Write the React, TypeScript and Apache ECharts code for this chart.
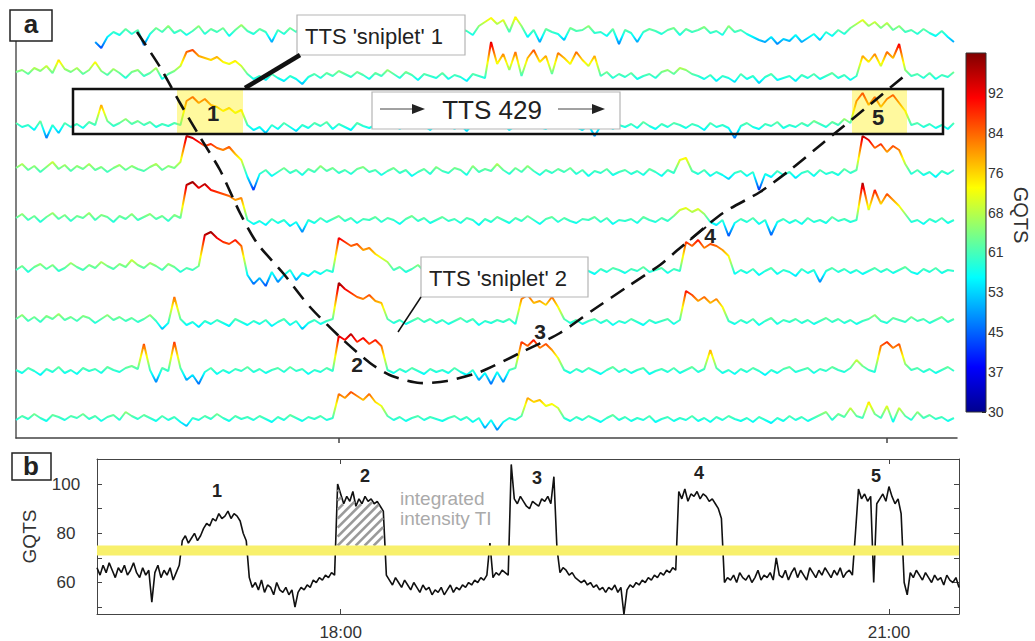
import React, { useEffect, useRef } from "react";
import * as echarts from "echarts";

const FONT = "'Liberation Sans', Arial, Helvetica, sans-serif";

// ---- Panel a: nine rows of GQTS traces (time in minutes after 16:00) ----
const ROW_T0 = 14;
const ROW_STEP = 2;
const N = null;
const ROW_0 = [N, N, N, N, N, N, N, N, N, N, N, N, N,
  50, 44, 55, 60, 57, 63, 58, 62, 47, 58,
  64, 60, 66, 59, 62, 57, 61, 66, 58, 63,
  60, 64, 56, 62, 67, 61, 58, 63, 60, 50,
  62, 58, 64, 60, 67, 63, 59, 55, 62, 66,
  61, 64, 58, 62, 60, 56, 63, 65, 59, 61,
  58, 62, 57, 64, 60, 55, 62, 66, 60, 58,
  63, 61, 57, 66, 70, 74, 68, 72, 60, 75,
  66, 55, 62, 50, 63, 60, 58, 52, 64, 61,
  62, 66, 59, 60, 56, 63, 48, 62, 59, 50,
  60, 63, 61, 58, 62, 64, 57, 63, 60, 62,
  65, 59, 61, 57, 66, 60, 62, 58, 55, 52,
  50, 55, 48, 53, 51, 57, 50, 54, 58, 52,
  60, 56, 62, 58, 64, 68, 72, 66, 70, 64,
  69, 62, 66, 60, 62, 58, 63, 59, 56, 61,
  55, 50];
const ROW_1 = [64, 66, 62, 68, 65, 70, 63, 76, 67, 64,
  68, 62, 66, 74, 65, 61, 67, 63, 58, 64,
  66, 60, 63, 68, 57, 62, 65, 70, 84, 86,
  80, 78, 76, 79, 74, 72, 75, 70, 62, 57,
  60, 56, 62, 58, 55, 60, 57, 52, 59, 62,
  58, 63, 60, 65, 62, 59, 64, 61, 57, 63,
  60, 66, 62, 58, 64, 61, 56, 62, 60, 58,
  63, 57, 61, 59, 55, 62, 60, 58, 94, 72,
  82, 66, 84, 60, 78, 86, 74, 80, 62, 83,
  78, 72, 84, 76, 70, 80, 60, 64, 58, 62,
  59, 63, 57, 60, 62, 58, 64, 66, 62, 68,
  66, 62, 60, 57, 61, 55, 60, 58, 54, 62,
  57, 60, 53, 59, 62, 56, 58, 60, 55, 61,
  58, 62, 57, 60, 63, 58, 61, 56, 60, 80,
  74, 82, 70, 84, 78, 92, 66, 60, 62, 58,
  63, 57, 61, 59, 64];
const ROW_2 = [62, 58, 60, 55, 64, 47, 60, 52, 62, 58,
  61, 57, 63, 60, 80, 64, 59, 62, 66, 61,
  64, 60, 63, 58, 61, 59, 62, 60, 84, 88,
  82, 86, 80, 78, 74, 77, 72, 75, 60, 55,
  58, 52, 60, 56, 62, 58, 54, 60, 57, 62,
  59, 63, 56, 61, 58, 55, 62, 59, 57, 60,
  62, 58, 61, 56, 60, 57, 63, 59, 55, 61,
  58, 62, 56, 60, 54, 61, 58, 63, 57, 60,
  61, 55, 59, 62, 57, 60, 58, 56, 61, 59,
  57, 62, 58, 55, 60, 49, 59, 62, 56, 60,
  58, 61, 57, 63, 59, 56, 61, 58, 62, 60,
  57, 61, 59, 55, 62, 58, 60, 57, 47, 59,
  62, 58, 56, 61, 59, 63, 57, 60, 58, 62,
  59, 64, 61, 58, 63, 60, 66, 62, 84, 92,
  80, 88, 78, 86, 90, 82, 74, 60, 62, 58,
  61, 57, 60, 56, 62];
const ROW_3 = [64, 68, 62, 66, 60, 65, 70, 63, 67, 61,
  66, 63, 68, 62, 65, 60, 64, 67, 62, 66,
  63, 61, 65, 68, 62, 66, 64, 70, 96, 94,
  90, 86, 88, 84, 82, 85, 78, 72, 55, 42,
  58, 62, 56, 60, 64, 59, 62, 57, 63, 60,
  66, 61, 64, 59, 62, 58, 63, 65, 60, 62,
  57, 61, 64, 59, 62, 56, 60, 63, 58, 65,
  61, 59, 64, 62, 57, 66, 60, 63, 61, 68,
  62, 58, 64, 60, 66, 61, 57, 62, 59, 63,
  60, 64, 58, 62, 56, 61, 59, 63, 57, 60,
  62, 58, 61, 57, 63, 60, 56, 62, 59, 72,
  74, 61, 58, 62, 56, 60, 57, 53, 59, 61,
  56, 60, 42, 58, 55, 61, 57, 60, 54, 59,
  61, 56, 62, 58, 60, 57, 63, 59, 62, 96,
  92, 84, 88, 80, 86, 82, 68, 58, 62, 57,
  60, 55, 61, 58, 62];
const ROW_4 = [62, 66, 60, 64, 58, 63, 67, 61, 65, 59,
  64, 62, 67, 60, 65, 63, 58, 64, 61, 66,
  60, 63, 66, 61, 64, 59, 65, 62, 95, 98,
  92, 96, 90, 88, 86, 84, 80, 82, 60, 56,
  59, 55, 61, 57, 60, 54, 58, 48, 60, 57,
  62, 58, 61, 64, 59, 62, 57, 61, 60, 63,
  58, 62, 60, 56, 61, 64, 59, 62, 57, 60,
  63, 59, 61, 57, 62, 60, 55, 61, 58, 63,
  60, 57, 62, 59, 64, 60, 56, 61, 63, 58,
  62, 59, 57, 61, 60, 63, 58, 62, 56, 60,
  59, 61, 57, 63, 60, 58, 62, 59, 64, 70,
  72, 68, 71, 66, 58, 55, 60, 44, 57, 61,
  58, 62, 56, 60, 45, 58, 61, 57, 60, 56,
  62, 58, 60, 57, 63, 59, 61, 58, 60, 97,
  70, 90, 76, 86, 80, 74, 66, 58, 60, 56,
  61, 58, 62, 57, 60];
const ROW_5 = [60, 64, 58, 63, 66, 61, 65, 59, 62, 67,
  63, 60, 65, 62, 68, 64, 61, 66, 63, 70,
  65, 62, 67, 64, 60, 66, 63, 58, 62, 60,
  64, 95, 98, 92, 88, 86, 90, 84, 55, 46,
  52, 44, 58, 48, 55, 60, 50, 57, 54, 59,
  56, 60, 58, 92, 88, 84, 86, 80, 82, 76,
  72, 68, 60, 63, 58, 61, 65, 59, 62, 57,
  63, 60, 58, 62, 56, 61, 59, 64, 60, 57,
  62, 58, 61, 59, 56, 60, 63, 58, 61, 57,
  60, 62, 58, 63, 59, 56, 61, 58, 62, 60,
  57, 61, 59, 63, 58, 60, 62, 57, 61, 59,
  88, 84, 90, 82, 86, 84, 80, 74, 56, 60,
  57, 61, 55, 59, 62, 56, 60, 58, 54, 61,
  57, 60, 48, 59, 62, 58, 61, 57, 60, 56,
  59, 62, 58, 61, 57, 60, 63, 58, 56, 61,
  58, 62, 57, 60, 59];
const ROW_6 = [62, 66, 60, 64, 59, 65, 62, 67, 61, 64,
  60, 65, 63, 58, 62, 66, 61, 64, 60, 63,
  59, 62, 66, 60, 52, 58, 84, 62, 56, 59,
  54, 60, 57, 61, 58, 55, 62, 59, 56, 60,
  57, 61, 55, 59, 62, 56, 60, 52, 58, 61,
  57, 60, 62, 98, 92, 88, 84, 82, 86, 80,
  78, 62, 58, 61, 57, 60, 63, 59, 62, 58,
  61, 57, 60, 63, 59, 62, 56, 60, 58, 61,
  59, 62, 57, 82, 86, 78, 80, 76, 84, 74,
  62, 58, 61, 57, 60, 62, 58, 61, 56, 60,
  58, 62, 59, 56, 61, 58, 60, 62, 57, 61,
  90, 86, 80, 84, 78, 82, 74, 60, 57, 61,
  58, 62, 56, 60, 63, 57, 61, 59, 62, 58,
  61, 57, 60, 63, 59, 62, 58, 61, 57, 60,
  62, 66, 60, 58, 63, 61, 59, 64, 60, 62,
  58, 61, 64, 59, 62];
const ROW_7 = [60, 57, 62, 59, 55, 61, 58, 63, 57, 60,
  56, 62, 59, 61, 57, 63, 60, 58, 62, 64,
  61, 86, 60, 48, 62, 59, 88, 62, 50, 55,
  46, 58, 62, 56, 60, 57, 61, 59, 63, 58,
  61, 57, 60, 62, 58, 63, 59, 61, 56, 60,
  58, 62, 59, 94, 90, 96, 88, 92, 86, 90,
  84, 60, 57, 61, 58, 62, 59, 56, 61, 58,
  60, 57, 62, 58, 55, 60, 50, 57, 46, 58,
  48, 60, 62, 88, 84, 90, 82, 86, 80, 72,
  60, 57, 61, 58, 62, 59, 56, 60, 63, 58,
  61, 57, 60, 62, 56, 59, 61, 58, 62, 57,
  60, 63, 58, 61, 80, 62, 57, 60, 56, 61,
  58, 62, 59, 55, 60, 57, 61, 63, 58, 60,
  62, 57, 61, 59, 63, 60, 58, 62, 70, 64,
  60, 58, 84, 88, 82, 86, 66, 60, 62, 58,
  61, 57, 60, 63, 59];
const ROW_8 = [58, 62, 59, 64, 60, 57, 63, 61, 58, 62,
  60, 64, 59, 62, 57, 61, 63, 58, 66, 62,
  59, 63, 60, 57, 62, 58, 61, 56, 52, 60,
  58, 62, 59, 64, 60, 57, 62, 59, 61, 58,
  62, 59, 56, 61, 58, 63, 60, 57, 61, 59,
  62, 58, 60, 84, 80, 86, 82, 78, 84, 76,
  72, 62, 58, 61, 57, 60, 62, 58, 61, 59,
  57, 60, 62, 58, 61, 56, 60, 50, 58, 48,
  56, 60, 58, 62, 80, 76, 78, 72, 74, 70,
  60, 57, 61, 58, 62, 59, 56, 60, 63, 58,
  61, 57, 60, 58, 62, 56, 59, 61, 57, 60,
  58, 62, 57, 60, 56, 61, 58, 62, 59, 57,
  60, 56, 61, 58, 55, 60, 57, 62, 58, 61,
  57, 60, 63, 66, 58, 64, 61, 70, 62, 60,
  76, 64, 60, 72, 56, 70, 62, 58, 66, 60,
  63, 59, 61, 57, 60];
const ROWS = [ROW_0, ROW_1, ROW_2, ROW_3, ROW_4, ROW_5, ROW_6, ROW_7, ROW_8];

// ---- Panel b: GQTS profile along the TTS (one value per minute) ----
const PROFILE_T0 = 40;
const PROFILE_STEP = 1;
const PROFILE = [66, 63, 67, 64, 68, 65, 62, 66, 64, 67,
  63, 65, 68, 64, 62, 66, 63, 65, 52, 64,
  67, 62, 65, 63, 66, 61, 64, 67, 77, 79,
  76, 78, 80, 77, 79, 82, 84, 83, 86, 85,
  88, 86, 87, 89, 86, 88, 87, 85, 80, 77,
  62, 58, 60, 57, 61, 56, 59, 58, 55, 60,
  57, 56, 58, 55, 57, 50, 56, 58, 57, 59,
  58, 61, 60, 62, 61, 63, 62, 64, 63, 100,
  96, 92, 95, 93, 97, 91, 94, 92, 95, 93,
  94, 92, 93, 91, 89, 63, 61, 59, 62, 60,
  58, 61, 59, 57, 60, 58, 56, 59, 57, 58,
  55, 57, 56, 58, 55, 57, 59, 56, 58, 57,
  59, 58, 60, 59, 61, 60, 62, 61, 63, 76,
  62, 64, 63, 65, 64, 63, 108, 94, 92, 95,
  93, 91, 90, 93, 92, 91, 94, 93, 95, 92,
  103, 74, 64, 66, 65, 63, 64, 62, 61, 60,
  61, 59, 60, 58, 59, 57, 58, 56, 58, 57,
  59, 56, 58, 47, 57, 59, 58, 60, 59, 61,
  60, 62, 61, 63, 62, 64, 63, 65, 64, 66,
  65, 97, 94, 98, 93, 96, 95, 97, 94, 96,
  95, 93, 94, 92, 90, 86, 60, 62, 61, 63,
  60, 64, 62, 61, 63, 60, 62, 65, 61, 63,
  62, 64, 61, 70, 63, 62, 65, 61, 64, 66,
  62, 65, 63, 61, 66, 64, 62, 65, 63, 66,
  64, 62, 65, 63, 66, 62, 64, 65, 63, 80,
  98, 94, 96, 93, 95, 60, 92, 94, 96, 93,
  99, 95, 92, 94, 88, 60, 55, 64, 62, 65,
  63, 61, 64, 62, 60, 63, 61, 62, 59, 63,
  61, 60, 62, 58];

const TIME_MIN_A = 14;
const TIME_MIN_B = 40;
const TIME_MAX = 323;
const TIME_TICKS = [120, 300];
const TIME_LABELS = ["18:00", "21:00"];
const GQTS_TICKS_B = [50, 60, 70, 80, 90, 100];
const GQTS_LABELS_B = [60, 80, 100];
const GQTS_RANGE_B = [47.2, 110.2];
const COLORBAR_TICKS = [30, 37.75, 45.5, 53.25, 61, 68.75, 76.5, 84.25, 92];
const COLOR_MIN = 30;
const COLOR_MAX = 99.75;
const JET = ["#00008F", "#0000FF", "#0080FF", "#00FFFF", "#80FF80", "#FFFF00", "#FF8000", "#FF0000", "#800000"];
const THRESHOLD = [71, 75];
const SNIPLET2 = [119, 134];
const PEAK_LABELS_B = ["1", "2", "3", "4", "5"];

// layout: pixel row of GQTS = 60 for each trace row, 1 px per GQTS unit
const ROW_BASE_PX = [32, 76, 125, 172, 220, 270, 321, 370, 418];
const ROW_REF = 60;

const DASH_CURVE = [[137, 32], [160, 67], [180, 103], [200, 137], [220, 170], [240, 213], [257, 243],
  [283, 273], [310, 307], [340, 337], [370, 363], [392, 376], [420, 383], [447, 381], [480, 372],
  [520, 353], [560, 333], [593, 310], [630, 285], [660, 265], [680, 248], [723, 213], [760, 192],
  [790, 170], [823, 143], [867, 107], [903, 77]];

function txt(text: string, x: number, y: number, size: number, o: any = {}) {
  return {
    type: "text", x, y, z: 110, rotation: o.rotation || 0,
    style: {
      text, fill: o.fill || "#222",
      font: `${o.bold ? "bold " : ""}${size}px ${FONT}`,
      align: o.align || "center", verticalAlign: "middle",
      textAlign: o.align || "center", textVerticalAlign: "middle",
    },
  };
}
function rect(x: number, y: number, w: number, h: number, style: any, z = 105) {
  return { type: "rect", z, shape: { x, y, width: w, height: h }, style };
}
function seg(x1: number, y1: number, x2: number, y2: number, w: number, z = 106) {
  return { type: "line", z, shape: { x1, y1, x2, y2 }, style: { stroke: "#111", lineWidth: w } };
}
function arrowHead(x: number, y: number) {
  return { type: "polygon", z: 107, shape: { points: [[x - 13, y - 5], [x, y], [x - 13, y + 5]] }, style: { fill: "#222" } };
}

export default function App() {
  const ref = useRef<HTMLDivElement>(null);
  useEffect(() => {
    if (!ref.current) return;
    const chart = echarts.init(ref.current, null, { renderer: "svg" });

    const grids: any[] = [];
    const xAxes: any[] = [];
    const yAxes: any[] = [];
    const series: any[] = [];

    // grid 0: panel a frame
    grids.push({ left: 16, top: 41, width: 941, height: 397 });
    xAxes.push({
      gridIndex: 0, type: "value", min: TIME_MIN_A, max: TIME_MAX,
      axisLine: { onZero: false, lineStyle: { color: "#444", width: 1.5 } },
      axisTick: { customValues: TIME_TICKS, length: 5, lineStyle: { color: "#444", width: 1.5 } },
      axisLabel: { show: false }, splitLine: { show: false },
    });
    yAxes.push({
      gridIndex: 0, type: "value", min: 0, max: 1,
      axisLine: { show: true, onZero: false, lineStyle: { color: "#555", width: 1.5 } },
      axisTick: { show: false }, axisLabel: { show: false }, splitLine: { show: false },
    });

    // grids 1..9: one per trace row
    ROWS.forEach((row, r) => {
      const base = ROW_BASE_PX[r];
      const top = Math.max(0, base - 40);
      const yMax = ROW_REF + (base - top);
      const gi = r + 1;
      grids.push({ left: 16, top, width: 941, height: base + 30 - top });
      xAxes.push({ gridIndex: gi, type: "value", min: TIME_MIN_A, max: TIME_MAX, show: false });
      yAxes.push({ gridIndex: gi, type: "value", min: 30, max: yMax, show: false });
      series.push({
        type: "line", xAxisIndex: gi, yAxisIndex: gi, symbol: "none", connectNulls: false,
        lineStyle: { width: 2 }, z: 2,
        data: row.map((v, i) => [ROW_T0 + i * ROW_STEP, v]),
      });
    });

    // grid 10: panel b
    grids.push({ left: 97, top: 459, width: 862, height: 155 });
    const tickStyle = { color: "#444", width: 1 };
    xAxes.push({
      gridIndex: 10, type: "value", position: "bottom", min: TIME_MIN_B, max: TIME_MAX,
      axisLine: { onZero: false, lineStyle: tickStyle },
      axisTick: { customValues: TIME_TICKS, inside: true, length: 5, lineStyle: tickStyle },
      axisLabel: {
        customValues: TIME_TICKS, margin: 10, fontSize: 17, color: "#333", fontFamily: FONT,
        formatter: (v: number) => TIME_LABELS[TIME_TICKS.indexOf(v)] || "",
      },
      splitLine: { show: false },
    });
    xAxes.push({
      gridIndex: 10, type: "value", position: "top", min: TIME_MIN_B, max: TIME_MAX,
      axisLine: { onZero: false, lineStyle: tickStyle },
      axisTick: { customValues: TIME_TICKS, inside: true, length: 5, lineStyle: tickStyle },
      axisLabel: { show: false }, splitLine: { show: false },
    });
    yAxes.push({
      gridIndex: 10, type: "value", position: "left", min: GQTS_RANGE_B[0], max: GQTS_RANGE_B[1],
      axisLine: { show: true, onZero: false, lineStyle: tickStyle },
      axisTick: { customValues: GQTS_TICKS_B, inside: true, length: 5, lineStyle: tickStyle },
      axisLabel: { customValues: GQTS_LABELS_B, margin: 31, align: "center", fontSize: 17, color: "#333", fontFamily: FONT },
      splitLine: { show: false },
      name: "GQTS", nameLocation: "middle", nameRotate: 90, nameGap: 58,
      nameTextStyle: { fontSize: 19, color: "#333", fontFamily: FONT },
    });
    yAxes.push({
      gridIndex: 10, type: "value", position: "right", min: GQTS_RANGE_B[0], max: GQTS_RANGE_B[1],
      axisLine: { show: true, onZero: false, lineStyle: tickStyle },
      axisTick: { customValues: GQTS_TICKS_B, inside: true, length: 5, lineStyle: tickStyle },
      axisLabel: { show: false }, splitLine: { show: false },
    });
    series.push({
      type: "line", xAxisIndex: 10, yAxisIndex: 10, symbol: "none", z: 2,
      lineStyle: { color: "#111", width: 1.6 },
      data: PROFILE.map((v, i) => [PROFILE_T0 + i * PROFILE_STEP, v]),
    });
    // threshold band
    series.push({
      type: "custom", xAxisIndex: 10, yAxisIndex: 10, z: 4, data: [[TIME_MIN_B, THRESHOLD[0]]],
      renderItem: (_p: any, api: any) => {
        const a = api.coord([TIME_MIN_B, THRESHOLD[1]]);
        const b = api.coord([TIME_MAX, THRESHOLD[0]]);
        return { type: "rect", shape: { x: a[0], y: a[1], width: b[0] - a[0], height: b[1] - a[1] }, style: { fill: "#F8F06C" } };
      },
    });
    // hatched integrated intensity of sniplet 2
    series.push({
      type: "custom", xAxisIndex: 10, yAxisIndex: 10, z: 3, data: [[SNIPLET2[0], THRESHOLD[1]]],
      renderItem: (_p: any, api: any) => {
        const pts: number[][] = [];
        PROFILE.forEach((v, i) => {
          const t = PROFILE_T0 + i * PROFILE_STEP;
          if (t >= SNIPLET2[0] && t <= SNIPLET2[1]) pts.push(api.coord([t, v]));
        });
        const x0 = pts[0][0];
        const x1 = pts[pts.length - 1][0];
        const yb = api.coord([SNIPLET2[0], THRESHOLD[1]])[1];
        const topAt = (x: number) => {
          for (let k = 0; k < pts.length - 1; k++) {
            if (x >= pts[k][0] && x <= pts[k + 1][0]) {
              const f = (x - pts[k][0]) / (pts[k + 1][0] - pts[k][0] || 1);
              return pts[k][1] + f * (pts[k + 1][1] - pts[k][1]);
            }
          }
          return yb;
        };
        const children: any[] = [];
        for (let s = x0 - 90; s < x1; s += 9) {
          let st: number[] | null = null;
          let en: number[] | null = null;
          for (let x = Math.max(s, x0); x <= x1; x += 0.5) {
            const y = yb - (x - s);
            if (y > yb) continue;
            const inside = y >= topAt(x) + 1;
            if (inside) { if (!st) st = [x, y]; en = [x, y]; }
            else if (st) break;
          }
          if (st && en && (en[0] - st[0]) > 1) {
            children.push({ type: "line", shape: { x1: st[0], y1: st[1], x2: en[0], y2: en[1] }, style: { stroke: "#9a9a9a", lineWidth: 2.6 } });
          }
        }
        return { type: "group", children };
      },
    });

    // grid 11: colour bar (xAxis 12 / yAxis 12)
    grids.push({ left: 966, top: 53, width: 20, height: 359 });
    xAxes.push({ gridIndex: 11, type: "value", min: 0, max: 1, show: false });
    yAxes.push({
      gridIndex: 11, type: "value", position: "right", min: COLOR_MIN, max: COLOR_MAX,
      axisLine: { show: false, onZero: false },
      axisTick: { customValues: COLORBAR_TICKS, inside: true, length: 4, lineStyle: { color: "#222" } },
      axisLabel: {
        customValues: COLORBAR_TICKS, margin: 2, fontSize: 14, color: "#333", fontFamily: FONT,
        formatter: (v: number) => String(Math.floor(v)),
      },
      splitLine: { show: false },
    });
    series.push({
      type: "custom", xAxisIndex: 12, yAxisIndex: 12, z: 1, data: [[0, COLOR_MIN]],
      renderItem: (_p: any, api: any) => {
        const a = api.coord([0, COLOR_MAX]);
        const b = api.coord([1, COLOR_MIN]);
        return {
          type: "rect", shape: { x: a[0], y: a[1], width: b[0] - a[0], height: b[1] - a[1] },
          style: {
            stroke: "#333", lineWidth: 1,
            fill: new echarts.graphic.LinearGradient(0, 1, 0, 0, JET.map((c, i) => ({ offset: i / (JET.length - 1), color: c }))),
          },
        };
      },
    });

    const boxStyle = { fill: "#fff", stroke: "#b5b5b5", lineWidth: 1.2 };
    const graphic: any[] = [
      rect(10, 10, 42, 31, { fill: "#fff", stroke: "#222", lineWidth: 1.5 }),
      txt("a", 31, 24, 26, { bold: true }),
      rect(12, 453, 39, 27, { fill: "#fff", stroke: "#222", lineWidth: 1.5 }),
      txt("b", 31, 466, 26, { bold: true }),
      rect(177, 89, 66, 45, { fill: "rgba(255,238,0,0.38)" }, 100),
      rect(852, 89, 55, 45, { fill: "rgba(255,238,0,0.38)" }, 100),
      rect(73, 89, 870, 45, { fill: "none", stroke: "#111", lineWidth: 2.5 }, 101),
      { type: "polyline", z: 102, shape: { points: DASH_CURVE, smooth: 0.25 }, style: { stroke: "#111", lineWidth: 2.6, lineDash: [16, 9], fill: null } },
      seg(245, 88, 300, 55, 4.5),
      rect(297, 15, 168, 40, boxStyle),
      txt("TTS 'sniplet' 1", 305, 36, 22, { align: "left" }),
      rect(372, 92, 248, 37, boxStyle),
      txt("TTS 429", 492, 110, 26),
      { type: "line", z: 106, shape: { x1: 380, y1: 109, x2: 415, y2: 109 }, style: { stroke: "#444", lineWidth: 1 } },
      arrowHead(425, 109),
      { type: "line", z: 106, shape: { x1: 558, y1: 109, x2: 595, y2: 109 }, style: { stroke: "#444", lineWidth: 1 } },
      arrowHead(605, 109),
      seg(398, 332, 421, 297, 1.5),
      rect(421, 257, 167, 40, boxStyle),
      txt("TTS 'sniplet' 2", 429, 278, 22, { align: "left" }),
      txt("1", 213, 113, 22, { bold: true }),
      txt("5", 878, 117, 22, { bold: true }),
      txt("2", 357, 364, 21, { bold: true }),
      txt("3", 540, 331, 21, { bold: true }),
      txt("4", 710, 235, 21, { bold: true }),
      seg(690, 240, 706, 227, 2),
      txt("GQTS", 1021, 215, 20, { rotation: -Math.PI / 2, fill: "#333" }),
      txt(PEAK_LABELS_B[0], 217, 491, 18, { bold: true }),
      txt(PEAK_LABELS_B[1], 365, 476, 18, { bold: true }),
      txt(PEAK_LABELS_B[2], 537, 478, 18, { bold: true }),
      txt(PEAK_LABELS_B[3], 699, 473, 18, { bold: true }),
      txt(PEAK_LABELS_B[4], 876, 476, 18, { bold: true }),
      txt("integrated", 400, 498, 19, { align: "left", fill: "#aaaaaa" }),
      txt("intensity TI", 400, 518, 19, { align: "left", fill: "#aaaaaa" }),
    ];

    chart.setOption({
      animation: false,
      backgroundColor: "#fff",
      textStyle: { fontFamily: FONT },
      grid: grids,
      xAxis: xAxes,
      yAxis: yAxes,
      visualMap: {
        type: "continuous", show: false, min: COLOR_MIN, max: COLOR_MAX, dimension: 1,
        seriesIndex: [0, 1, 2, 3, 4, 5, 6, 7, 8],
        inRange: { color: JET },
      },
      series,
      graphic,
    });
    return () => chart.dispose();
  }, []);
  return <div ref={ref} style={{ position: "absolute", left: 0, top: 0, width: 1035, height: 641 }} />;
}
